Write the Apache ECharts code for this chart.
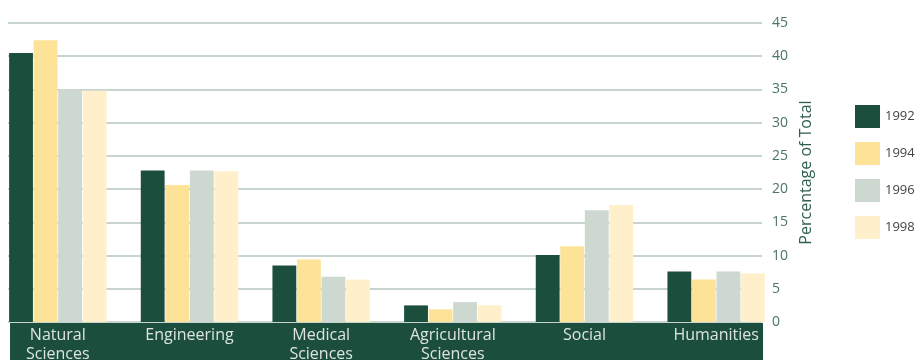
<!DOCTYPE html>
<html>
<head>
<meta charset="utf-8">
<script src="https://cdn.jsdelivr.net/npm/echarts@6/dist/echarts.min.js"></script>
<style>
html,body{margin:0;padding:0;background:#fff;}
#chart{width:923px;height:360px;}
</style>
</head>
<body>
<div id="chart"></div>
<script>
const categories = ['Natural\nSciences', 'Engineering', 'Medical\nSciences', 'Agricultural\nSciences', 'Social', 'Humanities'];
const years = ['1992', '1994', '1996', '1998'];
const v1992 = [40.5, 22.8, 8.5, 2.5, 10.1, 7.6];
const v1994 = [42.4, 20.6, 9.4, 1.9, 11.4, 6.4];
const v1996 = [35.0, 22.8, 6.8, 3.0, 16.8, 7.6];
const v1998 = [34.8, 22.7, 6.4, 2.5, 17.6, 7.3];
const yTicks = { min: 0, max: 45, interval: 5 };
const colors = ['#1c4e3e', '#fce398', '#cdd8d0', '#fff0cb'];

const seriesData = [v1992, v1994, v1996, v1998];
const chart = echarts.init(document.getElementById('chart'), null, { renderer: 'canvas' });
const font = '"Open Sans", "Liberation Sans", Arial, sans-serif';

chart.setOption({
  animation: false,
  backgroundColor: '#ffffff',
  textStyle: { fontFamily: font },
  graphic: [{
    type: 'rect',
    z: -1,
    shape: { x: 10, y: 323, width: 753, height: 37 },
    style: { fill: '#1c4e3e' }
  }],
  legend: {
    orient: 'vertical',
    left: 850,
    top: 100,
    itemWidth: 25,
    itemHeight: 23,
    itemGap: 14,
    icon: 'rect',
    textStyle: { color: '#444', fontSize: 13, fontFamily: font },
    data: years
  },
  grid: [
    { left: -8, right: 141, top: 23, bottom: 38, outerBoundsMode: 'none', containLabel: false },
    { left: 8, right: 161, top: 23, bottom: 38, outerBoundsMode: 'none', containLabel: false }
  ],
  xAxis: [
    {
      type: 'category',
      gridIndex: 0,
      data: categories,
      axisLine: { show: false },
      axisTick: { show: false },
      axisLabel: { color: '#dde4df', fontSize: 16, lineHeight: 19, margin: 4, interval: 0, fontFamily: font }
    },
    { type: 'value', gridIndex: 1, show: false, min: 0, max: 1 }
  ],
  yAxis: [
    { type: 'value', gridIndex: 0, show: false, min: yTicks.min, max: yTicks.max, interval: yTicks.interval },
    {
      type: 'value', gridIndex: 1, position: 'right',
      min: yTicks.min, max: yTicks.max, interval: yTicks.interval,
      name: 'Percentage of Total',
      nameLocation: 'middle',
      nameRotate: 90,
      nameGap: 33,
      nameTextStyle: { color: '#2f5f4d', fontSize: 16, fontFamily: font, padding: [0, 0, 8, 0] },
      axisLine: { show: false },
      axisTick: { show: false },
      axisLabel: { color: '#4a7565', fontSize: 14, margin: 10, fontFamily: font },
      splitLine: { lineStyle: { color: '#c8d5ce', width: 2 } }
    }
  ],
  series: years.map((y, i) => ({
    name: y,
    type: 'bar',
    xAxisIndex: 0,
    yAxisIndex: 0,
    data: seriesData[i],
    barGap: '3%',
    barCategoryGap: '26%',
    itemStyle: { color: colors[i] }
  }))
});
</script>
</body>
</html>
